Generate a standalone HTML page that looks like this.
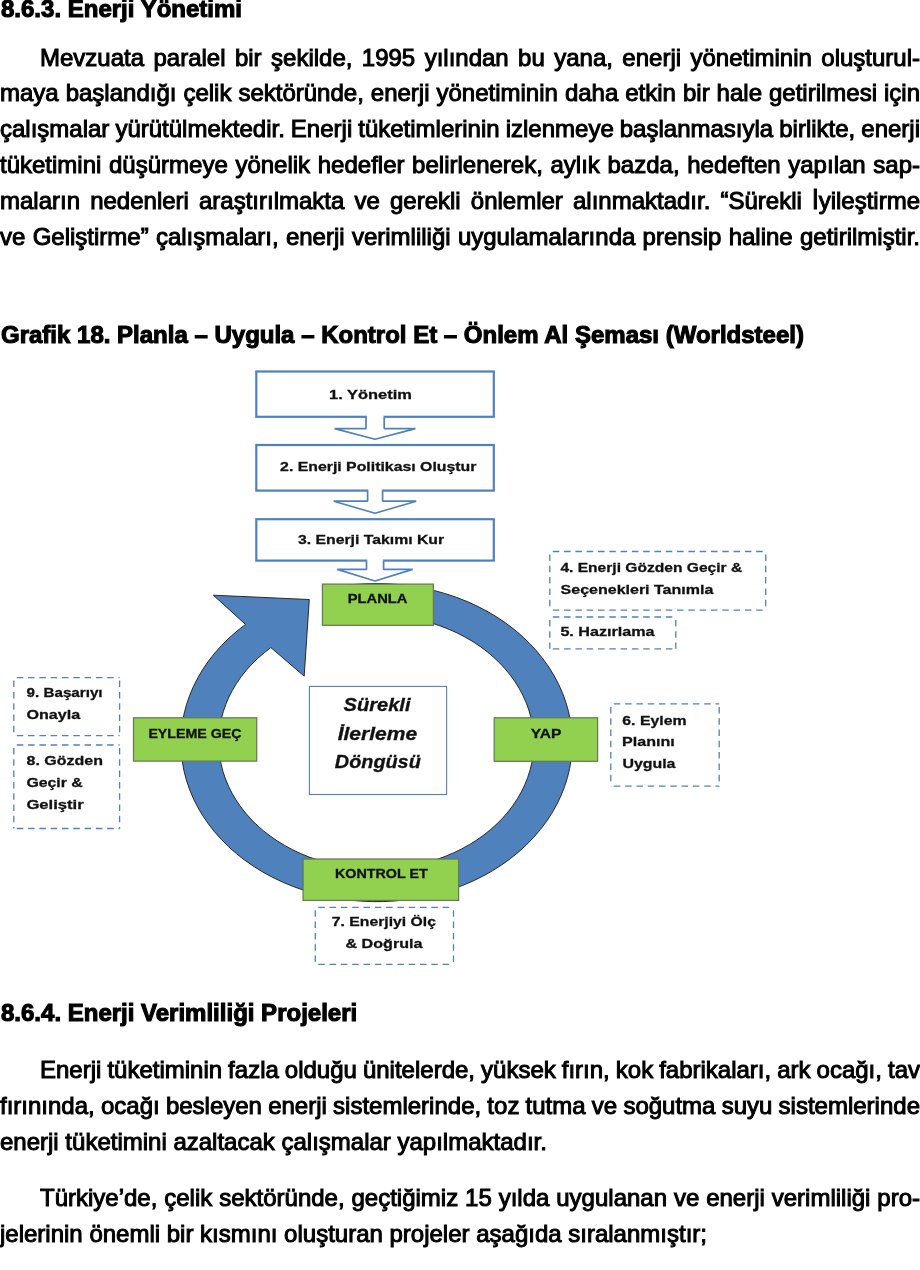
<!DOCTYPE html>
<html><head><meta charset="utf-8">
<style>
html,body{margin:0;padding:0;background:#fff;width:920px;height:1270px;overflow:hidden;position:relative}
.t{position:absolute;-webkit-text-stroke:1.0px #000;font-family:"Liberation Sans",sans-serif;font-size:24px;line-height:36px;color:#000;white-space:nowrap}
.b{font-weight:bold;-webkit-text-stroke:1.1px #000}
</style></head><body>
<div id="wrap" style="position:absolute;left:0;top:0;width:920px;height:1270px;will-change:transform">
<div class="t b" style="top:-9.0px;left:1px">8.6.3. Enerji Yönetimi</div>
<div class="t " style="top:39.5px;left:40px;word-spacing:2.752px">Mevzuata paralel bir şekilde, 1995 yılından bu yana, enerji yönetiminin oluşturul-</div>
<div class="t " style="top:75.4px;left:0px;word-spacing:0.320px">maya başlandığı çelik sektöründe, enerji yönetiminin daha etkin bir hale getirilmesi için</div>
<div class="t " style="top:111.3px;left:0px;word-spacing:-0.625px">çalışmalar yürütülmektedir. Enerji tüketimlerinin izlenmeye başlanmasıyla birlikte, enerji</div>
<div class="t " style="top:147.2px;left:0px;word-spacing:0.979px">tüketimini düşürmeye yönelik hedefler belirlenerek, aylık bazda, hedeften yapılan sap-</div>
<div class="t " style="top:183.1px;left:0px;word-spacing:3.457px">maların nedenleri araştırılmakta ve gerekli önlemler alınmaktadır. “Sürekli <span style="display:inline-block;transform:scaleY(1.2);transform-origin:50% 73%">I</span>yileştirme</div>
<div class="t " style="top:219.0px;left:0px;word-spacing:0.625px">ve Geliştirme” çalışmaları, enerji verimliliği uygulamalarında prensip haline getirilmiştir.</div>
<div class="t b" style="top:316.5px;left:1px">Grafik 18. Planla – Uygula – Kontrol Et – Önlem Al Şeması (Worldsteel)</div>
<div class="t b" style="top:995.0px;left:1px">8.6.4. Enerji Verimliliği Projeleri</div>
<div class="t " style="top:1051.5px;left:40px;word-spacing:-0.646px">Enerji tüketiminin fazla olduğu ünitelerde, yüksek fırın, kok fabrikaları, ark ocağı, tav</div>
<div class="t " style="top:1087.5px;left:0px;word-spacing:-0.447px">fırınında, ocağı besleyen enerji sistemlerinde, toz tutma ve soğutma suyu sistemlerinde</div>
<div class="t " style="top:1123.5px;left:0px">enerji tüketimini azaltacak çalışmalar yapılmaktadır.</div>
<div class="t " style="top:1179.5px;left:40px;word-spacing:0.227px">Türkiye’de, çelik sektöründe, geçtiğimiz 15 yılda uygulanan ve enerji verimliliği pro-</div>
<div class="t " style="top:1215.5px;left:0px">jelerinin önemli bir kısmını oluşturan projeler aşağıda sıralanmıştır;</div>
<svg width="920" height="1270" viewBox="0 0 920 1270" style="position:absolute;left:0;top:0">
<g fill="#fff" stroke="#4f81bd" stroke-width="2.2">
<rect x="256.3" y="371.5" width="237.5" height="45.3"/>
<rect x="256.3" y="445" width="237.5" height="45.6"/>
<rect x="256.3" y="519.2" width="237.5" height="41.4"/>
</g>
<g fill="#fff" stroke="none">
<rect x="367" y="414.5" width="16.5" height="4.5"/>
<rect x="368.4" y="488.4" width="13.4" height="4.5"/>
<rect x="367.3" y="558.4" width="15.5" height="4.5"/>
</g>
<g fill="#fff" stroke="#4f81bd" stroke-width="1.7" stroke-linejoin="bevel">
<path d="M366 416.8 V428.6 H334.6 L375 439.3 L415.4 428.6 H384.2 V416.8" />
<path d="M367.6 490.6 V501.2 H333.8 L375 513.2 L416.2 501.2 H382.6 V490.6" />
<path d="M366.5 560.6 V569.4 H337.3 L375 581 L412.7 569.4 H383.6 V560.6" />
</g>
<path d="M 342.4 585.9 A 195.7 159.1 0 1 1 245.5 624.4 L 213.4 595.2 L 309.3 599.5 L 304.2 676.2 L 270.9 647.6 A 157.6 127.1 0 1 0 349.0 616.9 Z" fill="#4f81bd" stroke="#1a1a1a" stroke-width="0.9"/>
<g fill="#92d050" stroke="#667a55" stroke-width="1.25">
<rect x="322.4" y="584.1" width="111" height="41.2"/>
<rect x="133.5" y="717.8" width="123.2" height="43.3"/>
<rect x="494.2" y="717.8" width="103.4" height="43.5"/>
<rect x="303.1" y="859" width="155.5" height="41.4"/>
</g>
<rect x="309.4" y="686.4" width="137.2" height="108.1" fill="#fff" stroke="#4f81bd" stroke-width="1.1"/>
<path fill="none" stroke="#4f81bd" stroke-width="1.3" stroke-dasharray="6.5 4.8" stroke-dashoffset="8.3" d="M549.8 551.5H765.7M549.8 551.5V610.2M765.7 551.5V610.2M549.8 610.2H765.7M549.8 617.0H675.8M549.8 617.0V648.8M675.8 617.0V648.8M549.8 648.8H675.8M610.8 703.9H719.2M610.8 703.9V786.2M719.2 703.9V786.2M610.8 786.2H719.2M13.8 677.6H119.6M13.8 677.6V735.6M119.6 677.6V735.6M13.8 735.6H119.6M13.8 745.0H119.6M13.8 745.0V828.5M119.6 745.0V828.5M13.8 828.5H119.6M315.3 907.3H453.5M315.3 907.3V964.3M453.5 907.3V964.3M315.3 964.3H453.5"/>
<g font-family="Liberation Sans" font-weight="bold" font-size="13.6" fill="#111" stroke="#111" stroke-width="0.3" lengthAdjust="spacingAndGlyphs">
<text x="329.1" y="398.7" textLength="82.8" lengthAdjust="spacingAndGlyphs">1. Yönetim</text>
<text x="280.1" y="470.5" textLength="196.3" lengthAdjust="spacingAndGlyphs">2. Enerji Politikası Oluştur</text>
<text x="298" y="544" textLength="146.1" lengthAdjust="spacingAndGlyphs">3. Enerji Takımı Kur</text>
<text x="347.8" y="602.6" textLength="59.6" lengthAdjust="spacingAndGlyphs">PLANLA</text>
<text x="148.4" y="737.6" textLength="93.2" lengthAdjust="spacingAndGlyphs">EYLEME GEÇ</text>
<text x="530.8" y="737.6" textLength="30.6" lengthAdjust="spacingAndGlyphs">YAP</text>
<text x="335" y="877.8" textLength="92.7" lengthAdjust="spacingAndGlyphs">KONTROL ET</text>
<text x="560.4" y="572.4" textLength="181.8" lengthAdjust="spacingAndGlyphs">4. Enerji Gözden Geçir &amp;</text>
<text x="560.6" y="594.1" textLength="152.7" lengthAdjust="spacingAndGlyphs">Seçenekleri Tanımla</text>
<text x="560.4" y="636.1" textLength="94.2" lengthAdjust="spacingAndGlyphs">5. Hazırlama</text>
<text x="622.3" y="724.5" textLength="64.3" lengthAdjust="spacingAndGlyphs">6. Eylem</text>
<text x="622.1" y="746.3" textLength="52.7" lengthAdjust="spacingAndGlyphs">Planını</text>
<text x="622.4" y="767.8" textLength="53.1" lengthAdjust="spacingAndGlyphs">Uygula</text>
<text x="26.6" y="697.4" textLength="76" lengthAdjust="spacingAndGlyphs">9. Başarıyı</text>
<text x="26.4" y="719" textLength="53.8" lengthAdjust="spacingAndGlyphs">Onayla</text>
<text x="26.6" y="764.9" textLength="76.3" lengthAdjust="spacingAndGlyphs">8. Gözden</text>
<text x="26.4" y="787" textLength="56.4" lengthAdjust="spacingAndGlyphs">Geçir &amp;</text>
<text x="26.4" y="809.2" textLength="57.3" lengthAdjust="spacingAndGlyphs">Geliştir</text>
<text x="331.8" y="926.4" textLength="104.1" lengthAdjust="spacingAndGlyphs">7. Enerjiyi Ölç</text>
<text x="345.5" y="948.4" textLength="76.9" lengthAdjust="spacingAndGlyphs">&amp; Doğrula</text>
</g>
<g font-family="Liberation Sans" font-weight="bold" font-style="italic" font-size="17.5" fill="#111" stroke="#111" stroke-width="0.3">
<text x="343.5" y="710.6" textLength="67" lengthAdjust="spacingAndGlyphs">Sürekli</text>
<text x="337.7" y="739.6" textLength="79.5" lengthAdjust="spacingAndGlyphs">İlerleme</text>
<text x="334.8" y="767.6" textLength="86" lengthAdjust="spacingAndGlyphs">Döngüsü</text>
</g>
</svg>

</div>
</body></html>
